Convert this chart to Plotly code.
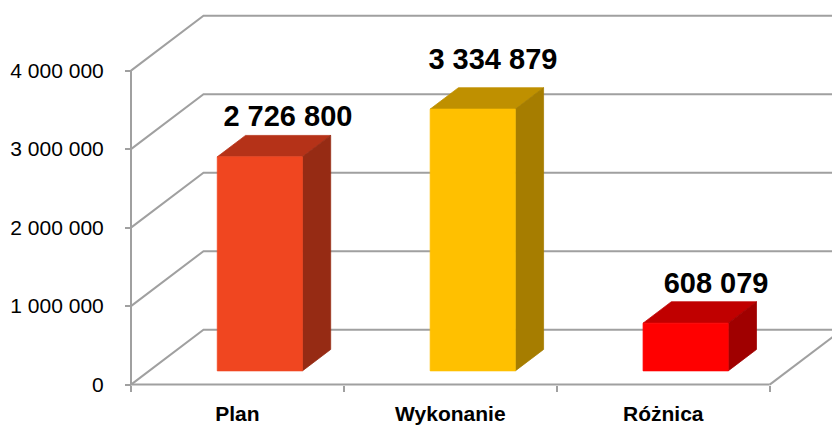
import plotly.graph_objects as go

CATEGORIES = ["Plan", "Wykonanie", "Różnica"]
VALUES = [2726800, 3334879, 608079]
TICK_VALUES = [0, 1000000, 2000000, 3000000, 4000000]
FRONT_COLORS = ["#F04620", "#FFC000", "#FF0000"]
TOP_COLORS = ["#B53218", "#BF9000", "#C00000"]
SIDE_COLORS = ["#962B14", "#A67D00", "#A00000"]
GRID = "#A0A0A0"
FONT = "Liberation Sans, Arial, sans-serif"

W, H = 832, 425
PX_CAT, PX_VAL = 212.9, 80.0 / 1e6
X0_PX, Y0_PX = 131, 392
DX, DY = 72.5 / PX_CAT, 56 / PX_VAL      # depth projection of the oblique view
BAR_HALF = 0.2
BAR_SHIFT = 0.02
D_FRONT, D_BACK = 0.25, 0.64
LABEL_X = [0.237, 0.2, 0.248]            # label centre relative to category, in category units
LABEL_PX = [39.3, 47.8, 38.3]            # label centre above bar top, px

x_lo = -0.5 - X0_PX / PX_CAT
x_hi = -0.5 + (W - X0_PX) / PX_CAT
y_lo = -(H - Y0_PX) / PX_VAL
y_hi = Y0_PX / PX_VAL
x_left, x_right = -0.5, len(CATEGORIES) - 0.5


def proj(c, v, d):
    return c + d * DX, v + d * DY


fig = go.Figure()

# walls: gridlines, floor and axis lines
gx, gy = [], []
for t in TICK_VALUES:
    a, b = proj(x_left, t, 1)
    gx += [x_left, a, x_hi + 1, None]
    gy += [t, b, b, None]
a, b = proj(x_right, 0, 1)
gx += [x_right, a, None, x_left, x_left, None, x_left, x_right]
gy += [0, b, None, TICK_VALUES[0], TICK_VALUES[-1], None, 0, 0]
fig.add_trace(go.Scatter(x=gx, y=gy, mode="lines", line=dict(color=GRID, width=2),
                         hoverinfo="skip", showlegend=False))

# 3D bars
for i, v in enumerate(VALUES):
    l, r = i + BAR_SHIFT - BAR_HALF, i + BAR_SHIFT + BAR_HALF
    faces = [
        ([proj(l, v, D_FRONT), proj(r, v, D_FRONT), proj(r, v, D_BACK), proj(l, v, D_BACK)], TOP_COLORS[i]),
        ([proj(r, 0, D_FRONT), proj(r, 0, D_BACK), proj(r, v, D_BACK), proj(r, v, D_FRONT)], SIDE_COLORS[i]),
        ([proj(l, 0, D_FRONT), proj(r, 0, D_FRONT), proj(r, v, D_FRONT), proj(l, v, D_FRONT)], FRONT_COLORS[i]),
    ]
    for pts, col in faces:
        xs = [p[0] for p in pts] + [pts[0][0]]
        ys = [p[1] for p in pts] + [pts[0][1]]
        fig.add_trace(go.Scatter(x=xs, y=ys, mode="lines", fill="toself", fillcolor=col,
                                 line=dict(color=col, width=0.75), hoverinfo="skip", showlegend=False))

# data labels
lx = [i + LABEL_X[i] for i in range(len(VALUES))]
ly = [proj(0, v, D_FRONT)[1] + LABEL_PX[i] / PX_VAL for i, v in enumerate(VALUES)]
fig.add_trace(go.Scatter(
    x=lx, y=ly, mode="text", textposition="middle center",
    text=[f"{v:,}".replace(",", " ") for v in VALUES],
    textfont=dict(family=FONT, size=29, color="#000000", weight="bold"),
    hoverinfo="skip", showlegend=False))

fig.update_layout(
    width=W, height=H, margin=dict(l=0, r=0, t=0, b=0),
    paper_bgcolor="white", plot_bgcolor="white", showlegend=False, separators=". ",
    xaxis=dict(range=[x_lo, x_hi], domain=[0, 1], anchor="free", position=(H - Y0_PX) / H,
               showgrid=False, zeroline=False, showline=False,
               tickmode="array", tickvals=list(range(len(CATEGORIES))), ticktext=CATEGORIES,
               ticks="", ticklabelstandoff=14,
               tickfont=dict(family=FONT, size=21, color="#000000", weight="bold"),
               minor=dict(tickmode="array",
                          tickvals=[i - 0.5 for i in range(len(CATEGORIES) + 1)],
                          ticks="outside", ticklen=6, tickwidth=2, tickcolor=GRID, showgrid=False)),
    yaxis=dict(range=[y_lo, y_hi], domain=[0, 1], anchor="free", position=X0_PX / W,
               showgrid=False, zeroline=False, showline=False,
               tickmode="array", tickvals=TICK_VALUES, tickformat=",d",
               ticks="outside", ticklen=6, tickwidth=2, tickcolor=GRID, ticklabelstandoff=17,
               tickfont=dict(family=FONT, size=21, color="#000000")),
)

fig.write_html("out.html", config={"displayModeBar": False},
               post_script="document.body.style.margin='0';document.body.style.overflow='hidden';")
